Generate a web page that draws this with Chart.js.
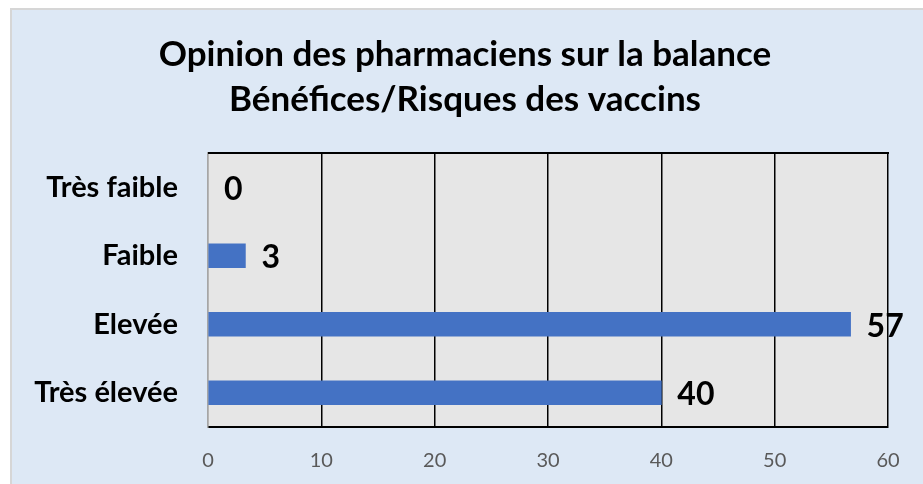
<!DOCTYPE html>
<html>
<head>
<meta charset="utf-8">
<script src="https://cdn.jsdelivr.net/npm/chart.js@4"></script>
<style>
  html, body { margin: 0; padding: 0; background: #ffffff; }
  #panel {
    position: absolute; left: 10px; top: 8px; width: 923px; height: 484px;
    background: #dde8f5; border: 2px solid #d6d6d6; box-sizing: border-box;
  }
  #wrap { position: absolute; left: 0; top: 0; width: 923px; height: 484px; }
</style>
</head>
<body>
<div id="panel"></div>
<div id="wrap"><canvas id="grafico"></canvas></div>
<script>
const titre = ["Opinion des pharmaciens sur la balance", "Bénéfices/Risques des vaccins"];
const categories = ["Très faible", "Faible", "Elevée", "Très élevée"];
const valeurs = [0, 3.3, 56.7, 40];
const ticksX = [0, 10, 20, 30, 40, 50, 60];

const fondZone = {
  id: "fondZone",
  beforeDraw(chart) {
    const { ctx, chartArea: a } = chart;
    ctx.save();
    ctx.fillStyle = "#e6e6e6";
    ctx.fillRect(a.left, a.top, a.right - a.left, a.bottom - a.top);
    ctx.restore();
  },
  afterDraw(chart) {
    const { ctx, chartArea: a } = chart;
    ctx.save();
    ctx.strokeStyle = "#000";
    ctx.lineWidth = 2;
    ctx.beginPath();
    ctx.moveTo(a.left, a.top);
    ctx.lineTo(a.right + 1, a.top);
    ctx.stroke();

    // titre sur deux lignes
    ctx.fillStyle = "#000";
    ctx.font = "bold 35px Lato";
    ctx.textAlign = "center";
    ctx.textBaseline = "middle";
    titre.forEach((ligne, i) => {
      ctx.fillText(ligne, 465, 55 + i * 45);
    });
    ctx.restore();
  },
};

const etiquettes = {
  id: "etiquettes",
  afterDatasetsDraw(chart) {
    const { ctx } = chart;
    const meta = chart.getDatasetMeta(0);
    ctx.save();
    ctx.font = "bold 32px Lato";
    ctx.fillStyle = "#000";
    ctx.textAlign = "left";
    ctx.textBaseline = "middle";
    meta.data.forEach((bar, i) => {
      ctx.fillText(String(Math.round(valeurs[i])), bar.x + 16, bar.y + 2);
    });
    ctx.restore();
  },
};

new Chart(document.getElementById("grafico"), {
  type: "bar",
  data: {
    labels: categories,
    datasets: [
      {
        data: valeurs,
        backgroundColor: (c) => (c.raw === 0 ? "rgba(0,0,0,0)" : "#4472c4"),
        barThickness: 24,
      },
    ],
  },
  options: {
    indexAxis: "y",
    responsive: true,
    maintainAspectRatio: false,
    animation: false,
    layout: { padding: { left: 0, right: 35, top: 153, bottom: 0 } },
    plugins: {
      legend: { display: false },
      tooltip: { enabled: false },
      title: { display: false },
    },
    scales: {
      x: {
        min: 0,
        max: 60,
        afterBuildTicks(scale) {
          scale.ticks = ticksX.map((v) => ({ value: v }));
        },
        afterFit(scale) {
          scale.height = 57;
        },
        grid: {
          drawTicks: false,
          color: (c) => (c.tick && c.tick.value === 0 ? "#a6a6a6" : "#000"),
          lineWidth: 1.5,
        },
        border: { color: "#000", width: 2 },
        ticks: {
          padding: 22,
          color: "#595959",
          font: { family: "Lato", size: 20 },
        },
      },
      y: {
        afterFit(scale) {
          scale.width = 208;
        },
        grid: { display: false, drawTicks: false },
        border: { color: "#a6a6a6", width: 1.5 },
        ticks: {
          padding: 30,
          color: "#000",
          font: { family: "Lato", size: 29, weight: "bold" },
        },
      },
    },
  },
  plugins: [fondZone, etiquettes],
});
</script>
</body>
</html>
